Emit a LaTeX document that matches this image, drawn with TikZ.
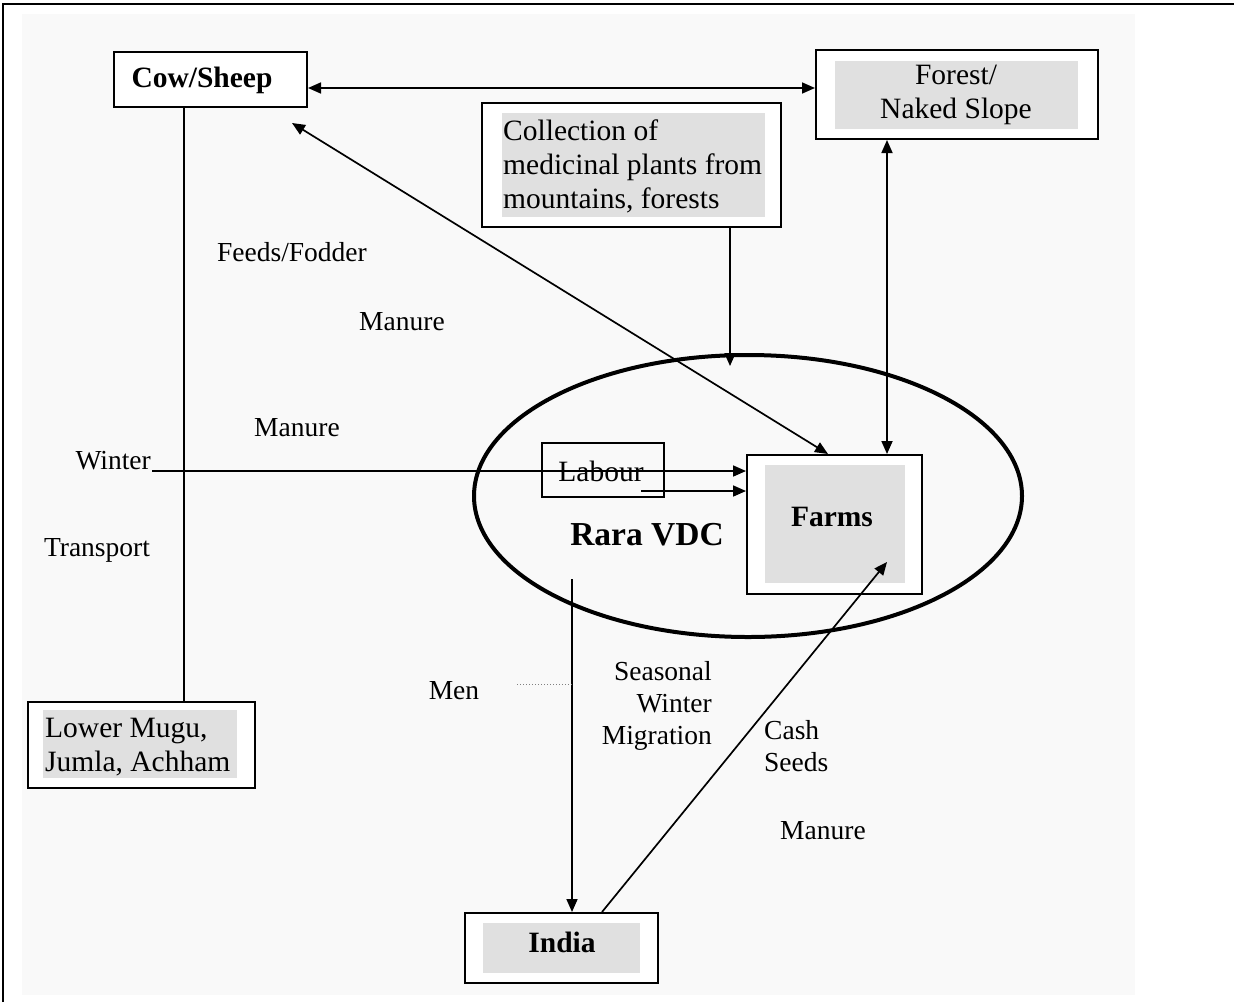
\documentclass[tikz,border=0pt]{standalone}
\usepackage{fontspec}
\setmainfont{Liberation Serif}
\usetikzlibrary{arrows.meta,shapes.geometric}
\definecolor{bgc}{HTML}{F9F9F9}
\definecolor{innerc}{HTML}{E0E0E0}
\begin{document}
\begin{tikzpicture}[x=1pt,y=-1pt,
  >={Triangle[length=13pt,width=11pt]},
  box/.style={draw=black, line width=2pt, fill=white, inner sep=0pt},
  shadebox/.style={fill=innerc, draw=none, inner sep=0pt},
  txt/.style={inner sep=0pt, font=\fontsize{29.5}{34}\selectfont},
  lbl/.style={inner sep=0pt, font=\fontsize{27.5}{32}\selectfont},
  boldlbl/.style={inner sep=0pt, font=\fontsize{29.5}{34}\selectfont\bfseries},
  conn/.style={line width=1.7pt, draw=black}
]
\useasboundingbox (0,0) rectangle (1234,1002);
\fill[white] (0,0) rectangle (1234,1002);
\fill[bgc] (22,14) rectangle (1135,995);
\draw[line width=2pt] (3,1002) -- (3,4) -- (1234,4);

% ellipse
\node[ellipse, draw, line width=4pt, minimum width=548pt, minimum height=282pt, inner sep=0pt] (vdc) at (748,496) {};

% boxes
\node[box, minimum width=193pt, minimum height=55pt] (cow) at (210.5,79.5) {};
\node[boldlbl] (cowt) at (202,80) {Cow/Sheep};

\node[box, minimum width=282pt, minimum height=89pt] (forest) at (957,94.5) {};
\node[shadebox, minimum width=243pt, minimum height=68pt] (forestin) at (956.5,95) {};
\node[txt, align=center] (forestt) at (956,95) {Forest/\\Naked Slope};

\node[box, minimum width=299pt, minimum height=124pt] (coll) at (631.5,165) {};
\node[shadebox, minimum width=263pt, minimum height=104pt] (collin) at (633.5,165) {};
\node[txt, align=left, anchor=west] (collt) at (503,166) {Collection of\\medicinal plants from\\mountains, forests};

\node[box, minimum width=227pt, minimum height=86pt] (lower) at (141.5,745) {};
\node[shadebox, minimum width=194pt, minimum height=68pt] (lowerin) at (140,744) {};
\node[txt, align=left, anchor=west] (lowert) at (45,747) {Lower Mugu,\\Jumla, Achham};

\node[box, minimum width=193pt, minimum height=70pt] (india) at (561.5,948) {};
\node[shadebox, minimum width=157pt, minimum height=50pt] (indiain) at (561.5,948) {};
\node[boldlbl] (indiat) at (562,942) {India};

\node[box, minimum width=175pt, minimum height=139pt] (farms) at (834.5,524.5) {};
\node[shadebox, minimum width=140pt, minimum height=118pt] (farmsin) at (835,524) {};
\node[boldlbl] (farmst) at (832,517) {Farms};

\node[draw, line width=1.6pt, minimum width=122pt, minimum height=54pt, inner sep=0pt] (labour) at (603,470) {};
\node[txt] (laboust) at (601,471) {Labour};

\node[inner sep=0pt, font=\fontsize{33.5}{38}\selectfont\bfseries] (rara) at (647,535) {Rara VDC};

% labels
\node[lbl] (feeds) at (292,252) {Feeds/Fodder};
\node[lbl] (man1) at (402,322) {Manure};
\node[lbl] (man2) at (297,428) {Manure};
\node[lbl, anchor=east] (winter) at (151,461) {Winter};
\node[lbl] (transport) at (97,550) {Transport};
\node[lbl] (men) at (454,691) {Men};
\node[lbl, align=right, anchor=east] (seasonal) at (712,706) {Seasonal\\Winter\\Migration};
\node[lbl, align=left, anchor=west] (cash) at (764,746) {Cash\\Seeds};
\node[lbl] (man3) at (823,831) {Manure};

% coordinates
\coordinate (cowdiag) at (292,123);
\coordinate (collend) at (730,366);
\coordinate (winterstart) at (152,471);
\coordinate (labstart) at (641,491);
\coordinate (downstart) at (572,579);
\coordinate (menstart) at (517,684);
\coordinate (menend) at (572,684);
\coordinate (indiaend) at (887,562);

% connectors
\draw[conn,<->] (cow.east |- 0,88) -- (forest.west |- 0,88);
\draw[conn,<->] (cowdiag) -- (farms.north -| 828,0);
\draw[conn,->] (coll.south -| 730,0) -- (collend);
\draw[conn,<->] (forest.south -| 887,0) -- (farms.north -| 887,0);
\draw[conn] (cow.south -| 184,0) -- (lower.north -| 184,0);
\draw[conn,->] (winterstart) -- (farms.west |- 0,471);
\draw[conn,->] (labstart) -- (farms.west |- 0,491);
\draw[conn,->] (downstart) -- (india.north -| 572,0);
\draw[gray, line width=1pt, dotted] (menstart) -- (menend);
\draw[conn,->] (india.north -| 602,0) -- (indiaend);
\end{tikzpicture}
\end{document}
